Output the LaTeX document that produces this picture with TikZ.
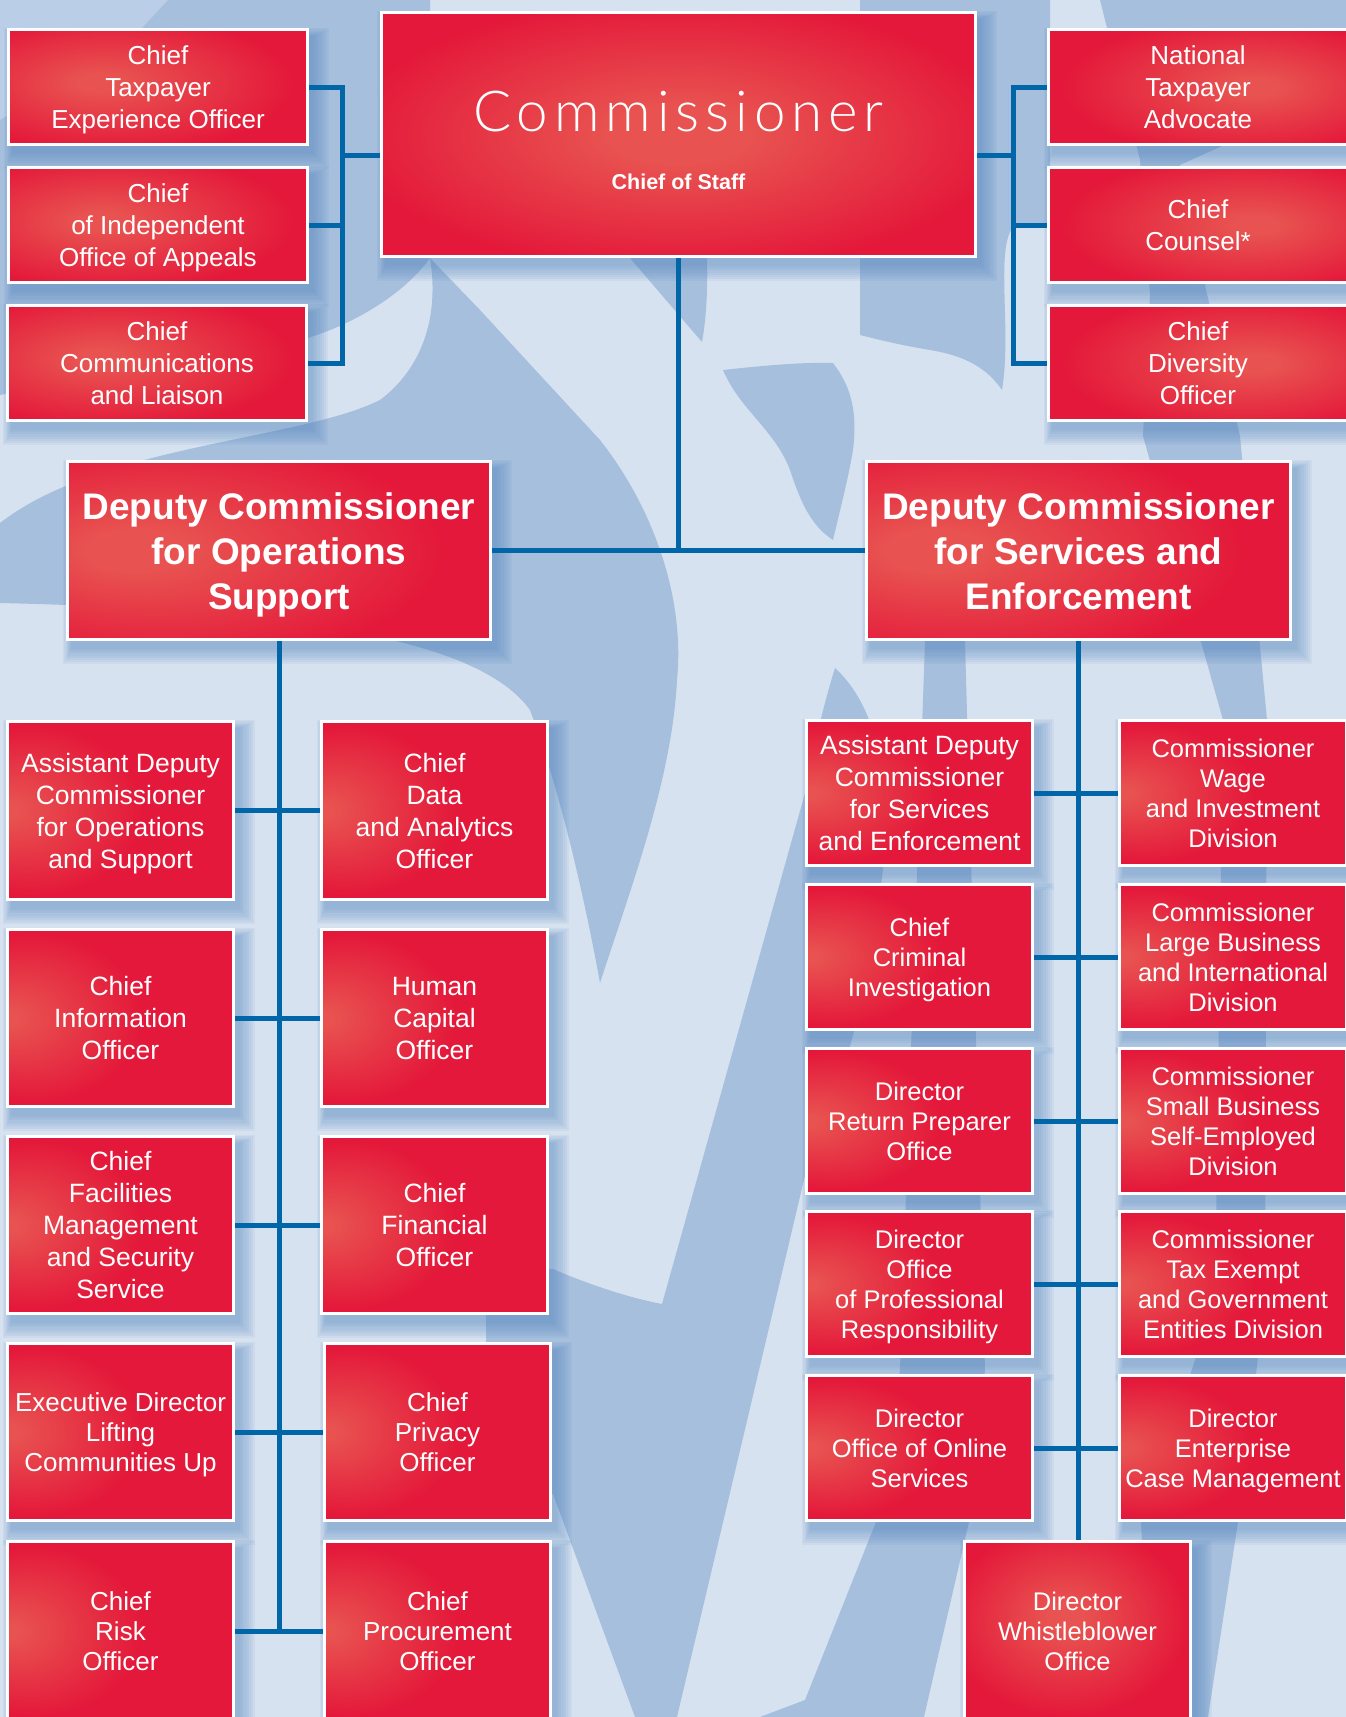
\documentclass[tikz,border=0pt]{standalone}
\usepackage{fontspec}
\setmainfont{Liberation Sans}
\newfontfamily\commfont[LetterSpace=10.5]{Lato Light}
\usetikzlibrary{calc}
\definecolor{bgl}{HTML}{D7E2F0}
\definecolor{bgd}{HTML}{A5BFDD}
\definecolor{bgm}{HTML}{BACEE7}
\definecolor{rdark}{HTML}{E4183A}
\definecolor{rlight}{HTML}{E85250}
\definecolor{conn}{HTML}{0066A8}
\definecolor{shad}{HTML}{4F84BE}
\pgfdeclareradialshading{rC}{\pgfpoint{0bp}{0bp}}{color(0bp)=(rlight); color(6bp)=(rlight); color(28bp)=(rdark); color(100bp)=(rdark)}
\pgfdeclareradialshading{rCL}{\pgfpoint{-10bp}{2bp}}{color(0bp)=(rlight); color(4bp)=(rlight); color(30bp)=(rdark); color(100bp)=(rdark)}
\pgfdeclareradialshading{rCR}{\pgfpoint{10bp}{0bp}}{color(0bp)=(rlight); color(4bp)=(rlight); color(30bp)=(rdark); color(100bp)=(rdark)}
\pgfdeclareradialshading{rDL}{\pgfpoint{-18bp}{0bp}}{color(0bp)=(rlight); color(6bp)=(rlight); color(32bp)=(rdark); color(100bp)=(rdark)}
\pgfdeclareradialshading{rE}{\pgfpoint{-25bp}{0bp}}{color(0bp)=(rlight); color(2bp)=(rlight); color(24bp)=(rdark); color(100bp)=(rdark)}
\pgfdeclareradialshading{rW}{\pgfpoint{-3bp}{4bp}}{color(0bp)=(rlight); color(4bp)=(rlight); color(27bp)=(rdark); color(100bp)=(rdark)}
\newcommand\ftop{\fontsize{26}{32}\selectfont}
\newcommand\fops{\fontsize{26.5}{32}\selectfont}
\newcommand\fopsb{\fontsize{26}{30}\selectfont}
\newcommand\fse{\fontsize{25.5}{30}\selectfont}
\newcommand\fdep{\fontsize{37}{45}\selectfont\bfseries}
\newcommand\mystrut{\rule[-0.2\baselineskip]{0pt}{\baselineskip}}
\pgfdeclarelayer{bgshapes}
\pgfdeclarelayer{shadowl}
\pgfdeclarelayer{connl}
\pgfsetlayers{bgshapes,shadowl,connl,main}
\newcommand\orgbox[7][]{%
  \begin{pgfonlayer}{shadowl}
    \foreach \s in {0,...,7}{%
      \fill[shad,opacity=0.075] ({#3+5-1.1*\s},{#4+8-1.1*\s}) rectangle ({#5+5+2.2*\s},{#6+8+2.2*\s});}
  \end{pgfonlayer}
  \node[orgnode,#1,minimum width={#5-#3-3},minimum height={#6-#4-3}] (#2) at ({(#3+#5)/2},{(#4+#6)/2}) {\mystrut#7\mystrut};
}
\begin{document}
\begin{tikzpicture}[x=1pt,y=-1pt,
  orgnode/.style={draw=white, line width=3pt, inner sep=0pt, align=center, text=white, font=\fops},
  connline/.style={draw=conn, line width=5pt}]
\useasboundingbox (0,0) rectangle (1346,1717);
\begin{pgfonlayer}{bgshapes}
  \fill[bgl] (0,0) rectangle (1346,1717);
  % top-left mass
  \fill[bgd] (0,0) -- (430,0) -- (430,258) .. controls (400,300) and (340,330) .. (300,340) .. controls (200,360) and (80,380) .. (0,395) -- cycle;
  \fill[bgm] (0,0) -- (168,0) -- (140,30) -- (0,120) -- cycle;
  % big tongue
  \fill[bgd] (430,258) -- (480,310) -- (600,440) .. controls (655,510) and (685,600) .. (677,680) .. controls (672,780) and (630,890) .. (600,983) .. controls (585,900) and (560,790) .. (530,710) .. controls (480,640) and (300,610) .. (0,603) -- (0,523) .. controls (100,445) and (300,440) .. (380,400) .. controls (420,370) and (440,320) .. (430,258) -- cycle;
  % small triangle under commissioner
  \fill[bgd] (630,258) -- (707,258) .. controls (708,290) and (706,320) .. (702,342) -- cycle;
  % leaf
  \fill[bgd] (723,370) .. controls (760,366) and (800,362) .. (833,363) .. controls (850,385) and (858,410) .. (853,450) .. controls (848,480) and (840,510) .. (833,540) .. controls (810,525) and (800,500) .. (790,470) .. controls (775,430) and (740,410) .. (723,370) -- cycle;
  % lower middle band
  \fill[bgd] (486,1269) -- (553,1269) .. controls (590,1285) and (630,1298) .. (662,1304) -- (807,786) .. controls (815,740) and (825,700) .. (835,668) .. controls (870,700) and (890,760) .. (885,850) .. controls (870,1000) and (840,1090) .. (807,1167) -- (677,1717) -- (635,1717) -- (553,1494) -- (486,1494) -- cycle;
  % right of commissioner
  \fill[bgd] (860,0) -- (1050,0) -- (1050,227) -- (1013,227) .. controls (995,250) and (1012,330) .. (1002,390) .. controls (985,365) and (960,355) .. (930,350) .. controls (900,345) and (880,340) .. (860,335) -- cycle;
  % right vertical band
  \fill[bgd] (1100,0) -- (1346,0) -- (1346,90) -- (1180,165) -- (1207,294) -- (1240,436) -- (1267,720) -- (1265,1300) -- (1238,1522) -- (1208,1717) -- (1150,1717) -- (1141,1522) -- (1215,1300) -- (1223,720) -- (1143,436) -- (1150,294) -- (1140,160) -- cycle;
  % lower right-centre band
  \fill[bgd] (925,641) -- (965,641) -- (985,1370) -- (969,1522) -- (924,1717) -- (760,1717) -- (805,1700) -- (876,1522) -- (900,1370) -- cycle;
\end{pgfonlayer}

% top row
\orgbox[shading=rCL,font=\ftop]{tl1}{7}{28}{309}{146}{Chief\\Taxpayer\\Experience Officer}
\orgbox[shading=rCL,font=\ftop]{tl2}{7}{166}{309}{284}{Chief\\of Independent\\Office of Appeals}
\orgbox[shading=rCL,font=\ftop]{tl3}{6}{304}{308}{422}{Chief\\Communications\\and Liaison}
\orgbox[shading=rC]{comm}{380}{11}{977}{258}{}
\node[anchor=base,text=white,font=\commfont\fontsize{56.5}{60}\selectfont] (commt) at (678.5,131.5) {Commissioner};
\node[anchor=base,text=white,font=\bfseries\fontsize{21.5}{24}\selectfont] (cos) at (678.5,189.5) {Chief of Staff};
\orgbox[shading=rCR,font=\ftop]{tr1}{1047}{28}{1349}{146}{National\\Taxpayer\\Advocate}
\orgbox[shading=rCR,font=\ftop]{tr2}{1047}{166}{1349}{284}{Chief\\Counsel*}
\orgbox[shading=rCR,font=\ftop]{tr3}{1047}{304}{1349}{422}{Chief\\Diversity\\Officer}

% deputies
\orgbox[shading=rDL,font=\fdep]{dops}{66}{460}{492}{641}{Deputy Commissioner\\for Operations\\Support}
\orgbox[shading=rDL,font=\fdep]{dse}{865}{460}{1292}{641}{Deputy Commissioner\\for Services and\\Enforcement}

% operations support columns
\orgbox[shading=rE]{o1l}{6}{720}{235}{901}{Assistant Deputy\\Commissioner\\for Operations\\and Support}
\orgbox[shading=rE]{o1r}{320}{720}{549}{901}{Chief\\Data\\and Analytics\\Officer}
\orgbox[shading=rE]{o2l}{6}{928}{235}{1108}{Chief\\Information\\Officer}
\orgbox[shading=rE]{o2r}{320}{928}{549}{1108}{Human\\Capital\\Officer}
\orgbox[shading=rE]{o3l}{6}{1135}{235}{1315}{Chief\\Facilities\\Management\\and Security\\Service}
\orgbox[shading=rE]{o3r}{320}{1135}{549}{1315}{Chief\\Financial\\Officer}
\orgbox[shading=rE,font=\fopsb]{o4l}{6}{1342}{235}{1522}{Executive Director\\Lifting\\Communities Up}
\orgbox[shading=rE,font=\fopsb]{o4r}{323}{1342}{552}{1522}{Chief\\Privacy\\Officer}
\orgbox[shading=rE,font=\fopsb]{o5l}{6}{1540}{235}{1722}{Chief\\Risk\\Officer}
\orgbox[shading=rE,font=\fopsb]{o5r}{323}{1540}{552}{1722}{Chief\\Procurement\\Officer}

% services and enforcement columns
\orgbox[shading=rE]{s1l}{805}{719}{1034}{867}{Assistant Deputy\\Commissioner\\for Services\\and Enforcement}
\orgbox[shading=rE,font=\fse]{s1r}{1118}{719}{1348}{867}{Commissioner\\Wage\\and Investment\\Division}
\orgbox[shading=rE,font=\fse]{s2l}{805}{883}{1034}{1031}{Chief\\Criminal\\Investigation}
\orgbox[shading=rE,font=\fse]{s2r}{1118}{883}{1348}{1031}{Commissioner\\Large Business\\and International\\Division}
\orgbox[shading=rE,font=\fse]{s3l}{805}{1047}{1034}{1195}{Director\\Return Preparer\\Office}
\orgbox[shading=rE,font=\fse]{s3r}{1118}{1047}{1348}{1195}{Commissioner\\Small Business\\Self-Employed\\Division}
\orgbox[shading=rE,font=\fse]{s4l}{805}{1210}{1034}{1358}{Director\\Office\\of Professional\\Responsibility}
\orgbox[shading=rE,font=\fse]{s4r}{1118}{1210}{1348}{1358}{Commissioner\\Tax Exempt\\and Government\\Entities Division}
\orgbox[shading=rE,font=\fse]{s5l}{805}{1374}{1034}{1522}{Director\\Office of Online\\Services}
\orgbox[shading=rE,font=\fse]{s5r}{1118}{1374}{1348}{1522}{Director\\Enterprise\\Case Management}
\orgbox[shading=rW,font=\fse]{wb}{963}{1540}{1192}{1722}{Director\\Whistleblower\\Office}

% connectors
\begin{pgfonlayer}{connl}
  \coordinate (tlj) at (342,155);
  \coordinate (trj) at (1013,155);
  \draw[connline] (comm.west |- tlj) -- (tlj);
  \draw[connline] (tl1.east) -| (tlj |- tl3.east) -- (tl3.east);
  \draw[connline] (tl2.east) -- (tl2.east -| tlj);
  \draw[connline] (comm.east |- trj) -- (trj);
  \draw[connline] (tr1.west) -| (trj |- tr3.west) -- (tr3.west);
  \draw[connline] (tr2.west) -- (tr2.west -| trj);
  \draw[connline] (comm.south) -- (comm.south |- dops.east);
  \draw[connline] (dops.east) -- (dse.west);
  \draw[connline] (dops.south) -- (dops.south |- o5l.east);
  \foreach \r in {1,...,5}{\draw[connline] (o\r l.east) -- (o\r r.west);}
  \draw[connline] (dse.south) -- (dse.south |- wb.north);
  \foreach \r in {1,...,5}{\draw[connline] (s\r l.east) -- (s\r r.west);}
\end{pgfonlayer}
\end{tikzpicture}
\end{document}
